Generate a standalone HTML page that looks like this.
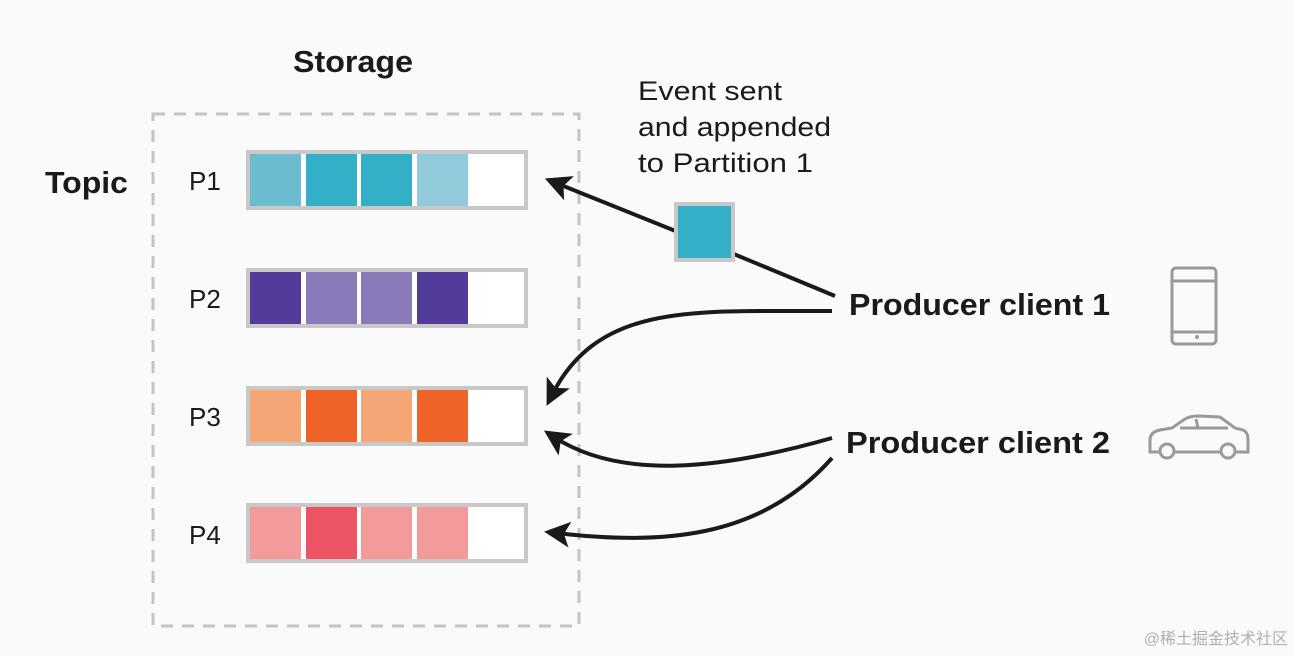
<html><body style="margin:0;background:#fafafa">
<svg width="1294" height="656" xmlns="http://www.w3.org/2000/svg" font-family="Liberation Sans, sans-serif">
<rect width="1294" height="656" fill="#fafafa"/>
<defs>
<marker id="b" markerWidth="26" markerHeight="26" refX="14" refY="13" orient="auto" markerUnits="userSpaceOnUse" viewBox="0 0 26 26"><path d="M0,0 L26,13 L0,26 L6,13z" fill="#1a1a1a"/></marker></defs>
<rect x="153" y="114" width="426" height="512" fill="none" stroke="#c4c4c4" stroke-width="3" stroke-dasharray="12 9"/>
<text x="293" y="72" font-size="31" font-weight="bold" textLength="120" lengthAdjust="spacingAndGlyphs" fill="#1a1a1a">Storage</text>
<text x="45" y="193" font-size="31" font-weight="bold" textLength="83" lengthAdjust="spacingAndGlyphs" fill="#1a1a1a">Topic</text>
<g font-size="26" fill="#1a1a1a">
<text x="189" y="190">P1</text><text x="189" y="308">P2</text><text x="189" y="426">P3</text><text x="189" y="544">P4</text></g>
<g stroke="#c8c8c8" stroke-width="4" fill="#fff">
<rect x="248" y="152" width="278" height="56"/><rect x="248" y="270" width="278" height="56"/><rect x="248" y="388" width="278" height="56"/><rect x="248" y="505" width="278" height="56"/></g>
<g>
<rect x="250" y="154" width="51" height="52" fill="#6bbcd1"/><rect x="306" y="154" width="51" height="52" fill="#33afc8"/><rect x="361" y="154" width="51" height="52" fill="#33afc8"/><rect x="417" y="154" width="51" height="52" fill="#92cbdc"/>
<rect x="250" y="272" width="51" height="52" fill="#533b99"/><rect x="306" y="272" width="51" height="52" fill="#8a7aba"/><rect x="361" y="272" width="51" height="52" fill="#8a7aba"/><rect x="417" y="272" width="51" height="52" fill="#533b99"/>
<rect x="250" y="390" width="51" height="52" fill="#f4a677"/><rect x="306" y="390" width="51" height="52" fill="#ee6428"/><rect x="361" y="390" width="51" height="52" fill="#f4a677"/><rect x="417" y="390" width="51" height="52" fill="#ee6428"/>
<rect x="250" y="507" width="51" height="52" fill="#f29b9a"/><rect x="306" y="507" width="51" height="52" fill="#ec5464"/><rect x="361" y="507" width="51" height="52" fill="#f29b9a"/><rect x="417" y="507" width="51" height="52" fill="#f29b9a"/></g>
<g font-size="27" fill="#1a1a1a"><text x="638" y="100" textLength="144" lengthAdjust="spacingAndGlyphs">Event sent</text><text x="638" y="136" textLength="193" lengthAdjust="spacingAndGlyphs">and appended</text><text x="638" y="172" textLength="175" lengthAdjust="spacingAndGlyphs">to Partition 1</text></g>
<g stroke="#1a1a1a" stroke-width="4" fill="none">
<path d="M835,296 L700,240"/>
<path d="M678,232 L556,183" marker-end="url(#b)"/>
<path d="M832,311 C700,312 600,300 552,395" marker-end="url(#b)"/>
<path d="M832,438 C720,470 620,480 554,437" marker-end="url(#b)"/>
<path d="M832,458 C760,540 660,545 556,533" marker-end="url(#b)"/>
</g>
<rect x="676" y="204" width="57" height="56" fill="#33afc8" stroke="#c8c8c8" stroke-width="4"/>
<g font-size="31" font-weight="bold" fill="#1a1a1a"><text x="849" y="315" textLength="261" lengthAdjust="spacingAndGlyphs">Producer client 1</text><text x="846" y="453" textLength="264" lengthAdjust="spacingAndGlyphs">Producer client 2</text></g>
<g stroke="#9a9a9a" stroke-width="3" fill="none">
<rect x="1172" y="268" width="44" height="76" rx="4"/><line x1="1172" y1="281" x2="1216" y2="281"/><line x1="1172" y1="332" x2="1216" y2="332"/>
<path d="M1150,452 L1150,440 Q1150,432 1160,430 L1172,428 L1185,419 Q1190,416 1198,416 L1220,417 L1235,428 L1243,430 Q1248,432 1248,440 L1248,452 Z"/>
<path d="M1180,428 L1228,428 M1196,419 L1198,428"/>
<circle cx="1167" cy="451" r="7" fill="#fafafa"/><circle cx="1228" cy="451" r="7" fill="#fafafa"/></g>
<circle cx="1197" cy="337" r="2" fill="#9a9a9a"/>
<text x="1288" y="644" font-size="16" text-anchor="end" fill="#b0b0b0" font-family="Liberation Sans, Noto Sans CJK SC, sans-serif">@稀土掘金技术社区</text>
</svg></body></html>
